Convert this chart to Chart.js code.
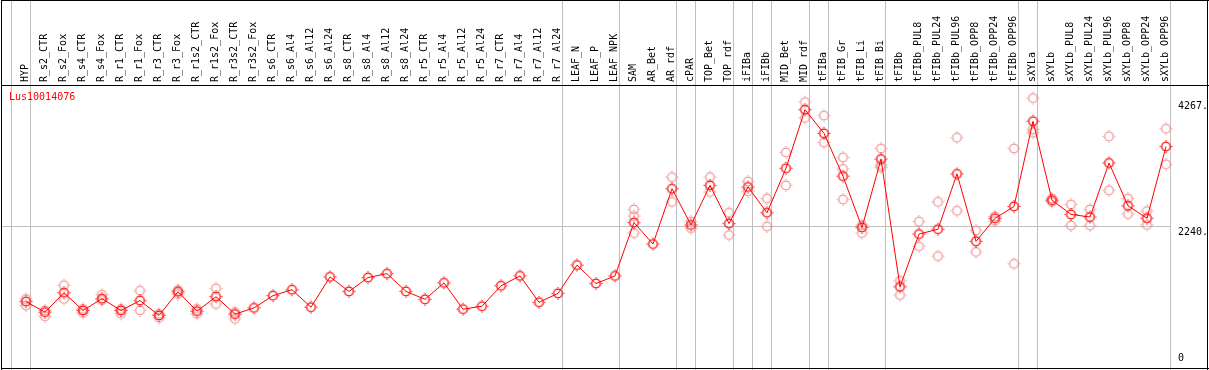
<!DOCTYPE html>
<html><head><meta charset="utf-8">
<script src="https://cdn.jsdelivr.net/npm/chart.js@4/dist/chart.umd.min.js"></script>
<style>html,body{margin:0;padding:0;background:#fff;overflow:hidden}#wrap{width:1209px;height:370px}</style>
</head><body><div id="wrap"><canvas id="c" width="1209" height="370"></canvas></div>
<script>
const geneName = 'Lus10014076';
const categories = ['HYP','R_s2_CTR','R_s2_Fox','R_s4_CTR','R_s4_Fox','R_r1_CTR','R_r1_Fox','R_r3_CTR','R_r3_Fox','R_r1s2_CTR','R_r1s2_Fox','R_r3s2_CTR','R_r3s2_Fox','R_s6_CTR','R_s6_Al4','R_s6_Al12','R_s6_Al24','R_s8_CTR','R_s8_Al4','R_s8_Al12','R_s8_Al24','R_r5_CTR','R_r5_Al4','R_r5_Al12','R_r5_Al24','R_r7_CTR','R_r7_Al4','R_r7_Al12','R_r7_Al24','LEAF_N','LEAF_P','LEAF_NPK','SAM','AR_Bet','AR_rdf','cPAR','TOP_Bet','TOP_rdf','iFIBa','iFIBb','MID_Bet','MID_rdf','tFIBa','tFIB_Gr','tFIB_Li','tFIB_Bi','tFIBb','tFIBb_PUL8','tFIBb_PUL24','tFIBb_PUL96','tFIBb_OPP8','tFIBb_OPP24','tFIBb_OPP96','sXYLa','sXYLb','sXYLb_PUL8','sXYLb_PUL24','sXYLb_PUL96','sXYLb_OPP8','sXYLb_OPP24','sXYLb_OPP96'];
const meanValues = [1024,853,1167,880,1071,880,1040,800,1183,869,1103,821,922,1119,1215,933,1422,1188,1411,1475,1188,1060,1326,901,949,1279,1438,1012,1156,1613,1315,1438,2299,1953,2846,2261,2899,2283,2873,2458,3176,4122,3739,3048,2219,3324,1263,2113,2192,3085,1996,2368,2559,3935,2660,2431,2389,3261,2570,2368,3527];
const rep1 = [1065,784,1288,906,1135,906,1199,826,1209,906,1236,853,null,null,null,null,null,null,null,null,null,null,null,null,null,null,null,null,null,null,null,null,2511,null,3032,2315,3032,2458,2963,2687,3431,4244,4026,3351,2261,3495,1358,2315,2634,3670,2172,2325,3495,4308,2687,2591,2511,3691,2687,2484,3814];
const rep2 = [960,880,1065,840,1049,826,880,762,1145,826,985,746,null,null,null,null,null,null,null,null,null,null,null,null,null,null,null,null,null,null,null,null,2404,null,2634,2208,2793,2097,2803,2235,2899,3989,3590,3165,2129,3229,1129,1916,1757,2490,1826,2400,1634,3803,2634,2251,2251,2819,2436,2261,3240];
const rep3 = [null,null,null,null,null,null,null,null,null,null,null,null,null,null,null,null,null,null,null,null,null,null,null,null,null,null,null,null,null,null,null,null,2129,null,null,null,null,null,null,null,null,null,null,2671,null,3192,null,null,null,null,null,null,null,3750,null,null,null,null,null,null,null];
const yTickValues = [0, 2240, 4267];
const yTickLabels = ['0', '2240.', '4267.'];
const yMax = 4520;
const groupEnds = ['HYP','R_r7_Al24','LEAF_NPK','AR_rdf','cPAR','TOP_rdf','iFIBa','iFIBb','MID_rdf','tFIBa','tFIB_Bi','tFIBb_OPP96','sXYLa','sXYLb_OPP96'];

const FONT = 'DejaVu Sans Mono';

function makeMarker(ring) {
  const c = document.createElement('canvas');
  c.width = 15; c.height = 15;
  const g = c.getContext('2d');
  g.strokeStyle = ring; g.lineWidth = 1.3;
  g.beginPath(); g.arc(7.5, 7.5, 4.3, 0, Math.PI * 2); g.stroke();
  g.fillStyle = ring;
  [[7,1],[7,13],[1,7],[13,7]].forEach(p => g.fillRect(p[0], p[1], 1, 1));
  return c;
}
const mainMarker = makeMarker('#ff0000');
const repMarker = makeMarker('rgba(236,140,140,0.9)');

function repData(arr) {
  const out = [];
  arr.forEach((v, i) => { if (v !== null) out.push({x: categories[i], y: v}); });
  return out;
}

const decor = {
  id: 'decor',
  beforeDraw(chart) {
    const ctx = chart.ctx;
    ctx.save();
    ctx.fillStyle = '#fff';
    ctx.fillRect(0, 0, chart.width, chart.height);
    ctx.restore();
  },
  beforeDatasetsDraw(chart) {
    const ctx = chart.ctx, xs = chart.scales.x, ys = chart.scales.y;
    ctx.save();
    ctx.strokeStyle = '#c0c0c0';
    ctx.lineWidth = 1;
    ctx.beginPath();
    const gy = Math.round(ys.getPixelForValue(yTickValues[1])) + 0.5;
    ctx.moveTo(1, gy); ctx.lineTo(1170, gy);
    const step = xs.getPixelForValue(1) - xs.getPixelForValue(0);
    const firstX = Math.round(xs.getPixelForValue(0) - step + 4) + 0.5;
    ctx.moveTo(firstX, 0); ctx.lineTo(firstX, 370);
    groupEnds.forEach(name => {
      const px = Math.round(xs.getPixelForValue(categories.indexOf(name)) + 4) + 0.5;
      ctx.moveTo(px, 0); ctx.lineTo(px, 370);
    });
    ctx.stroke();
    ctx.restore();
  },
  afterDraw(chart) {
    const ctx = chart.ctx, ys = chart.scales.y, area = chart.chartArea;
    ctx.save();
    ctx.strokeStyle = '#000';
    ctx.lineWidth = 1;
    ctx.beginPath();
    ctx.moveTo(1.5, 0); ctx.lineTo(1.5, 370);
    ctx.moveTo(1, 0.5); ctx.lineTo(1209, 0.5);
    ctx.moveTo(1, 85.5); ctx.lineTo(1209, 85.5);
    ctx.moveTo(1, 368.5); ctx.lineTo(1209, 368.5);
    ctx.moveTo(1207.5, 0); ctx.lineTo(1207.5, 370);
    ctx.stroke();
    ctx.font = '10px "' + FONT + '"';
    ctx.fillStyle = '#000';
    ctx.textBaseline = 'top';
    ctx.textAlign = 'left';
    yTickValues.forEach((v, i) => {
      const py = ys.getPixelForValue(v);
      const ty = Math.min(py + 1, area.bottom - 12);
      ctx.fillText(yTickLabels[i], 1178, ty);
    });
    ctx.fillStyle = '#ff0000';
    ctx.textBaseline = 'middle';
    ctx.fillText(geneName, 9, 97);
    ctx.restore();
  }
};

new Chart(document.getElementById('c'), {
  type: 'line',
  data: {
    labels: categories,
    datasets: [
      {
        label: geneName,
        data: meanValues,
        borderColor: '#ff0000',
        borderWidth: 1,
        pointStyle: mainMarker,
        tension: 0,
        fill: false,
        order: 1,
        clip: false
      },
      { label: 'rep1', data: repData(rep1), showLine: false, pointStyle: repMarker, order: 2, clip: false },
      { label: 'rep2', data: repData(rep2), showLine: false, pointStyle: repMarker, order: 2, clip: false },
      { label: 'rep3', data: repData(rep3), showLine: false, pointStyle: repMarker, order: 2, clip: false }
    ]
  },
  options: {
    responsive: false,
    animation: false,
    devicePixelRatio: 1,
    layout: { padding: { left: 26, right: 43, top: 0, bottom: 1.5 } },
    plugins: { legend: { display: false }, tooltip: { enabled: false }, title: { display: false } },
    scales: {
      x: {
        type: 'category',
        position: 'top',
        offset: false,
        grid: { display: false, drawTicks: false },
        border: { display: false },
        ticks: {
          autoSkip: false,
          minRotation: 90,
          maxRotation: 90,
          padding: 3,
          labelOffset: 11,
          color: '#000',
          font: { family: FONT, size: 10 }
        },
        afterFit(scale) { scale.height = 85; }
      },
      y: {
        display: false,
        min: 0,
        max: yMax
      }
    }
  },
  plugins: [decor]
});
</script>
</body></html>
